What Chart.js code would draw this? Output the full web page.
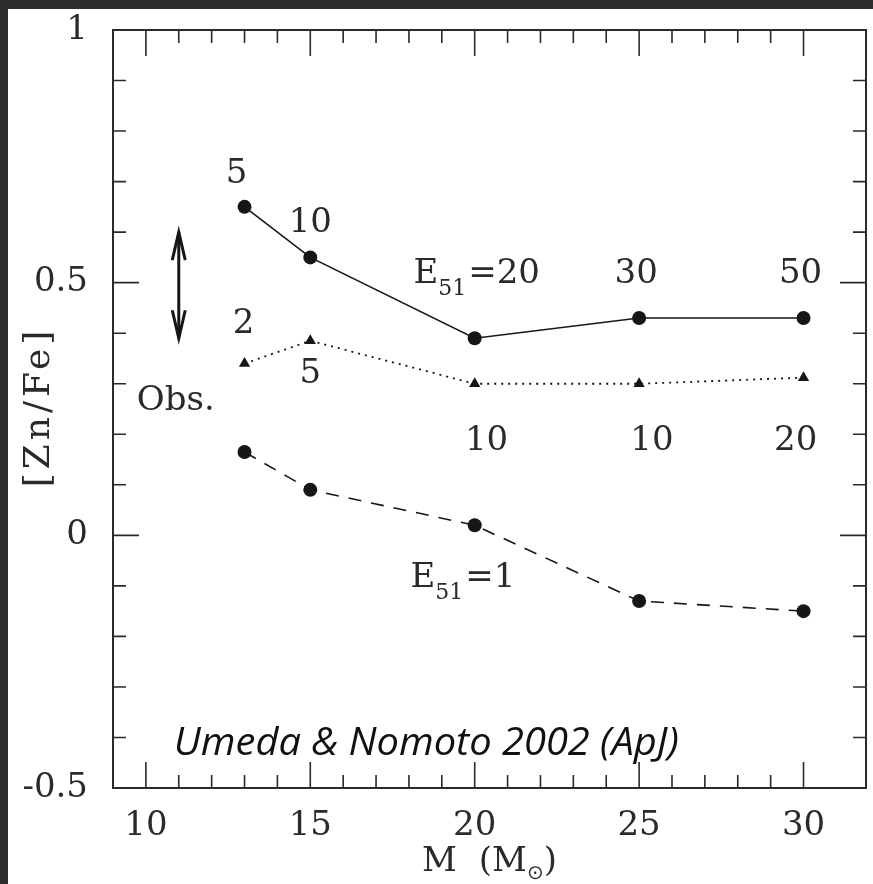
<!DOCTYPE html>
<html>
<head>
<meta charset="utf-8">
<script src="https://cdn.jsdelivr.net/npm/chart.js@4.4.1/dist/chart.umd.min.js"></script>
<style>
  html, body { margin: 0; padding: 0; background: #2d2d2d; }
  #wrap { width: 873px; height: 884px; }
</style>
</head>
<body>
<div id="wrap"><canvas id="chart" width="873" height="884"></canvas></div>
<script>
const MASSES = [13, 15, 20, 25, 30];
const ZNFE_HIGH_E = [0.65, 0.55, 0.39, 0.43, 0.43];
const ZNFE_MID_E = [0.34, 0.385, 0.30, 0.30, 0.312];
const ZNFE_E1 = [0.165, 0.09, 0.02, -0.13, -0.15];
const OBS_MASS = [11, 11];
const OBS_RANGE = [0.39, 0.6];
const X_TICK_LABELS = [10, 15, 20, 25, 30];
const Y_TICK_LABELS = [-0.5, 0, 0.5, 1];

// text labels next to the points: [text, mass, [Zn/Fe] of baseline]
const NOTES = [
  ["5", 12.76, 0.698],
  ["10", 15.0, 0.601],
  ["30", 24.91, 0.5],
  ["50", 29.91, 0.5],
  ["2", 12.97, 0.401],
  ["5", 15.0, 0.302],
  ["Obs.", 10.91, 0.249],
  ["10", 20.36, 0.169],
  ["10", 25.39, 0.169],
  ["20", 29.76, 0.169],
];
// E51 labels: [value, centre mass, baseline]
const E_NOTES = [
  ["20", 20.06, 0.5],
  ["1", 19.64, -0.102],
];
const CAPTION = "Umeda & Nomoto 2002 (ApJ)";

const INK = "#161616";
const TEXT = "#2a2a2a";
const SERIF = "'DejaVu Serif', serif";

function pts(ys, xs = MASSES) {
  return xs.map((x, i) => ({ x, y: ys[i] }));
}

function isNear(v, step) {
  return Math.abs(v / step - Math.round(v / step)) < 1e-6;
}

function drawELabel(ctx, value, cx, baseY) {
  const big = "34px " + SERIF;
  const small = "22px " + SERIF;
  ctx.font = big;
  const wE = ctx.measureText("E").width;
  const wEq = ctx.measureText("=").width;
  const wV = ctx.measureText(value).width;
  ctx.font = small;
  const wSub = ctx.measureText("51").width;
  const total = wE + wSub + wEq + wV + 2;
  let x = cx - total / 2;
  ctx.textAlign = "left";
  ctx.font = big;
  ctx.fillText("E", x, baseY);
  x += wE;
  ctx.font = small;
  ctx.fillText("51", x, baseY + 12);
  x += wSub + 2;
  ctx.font = big;
  ctx.fillText("=", x, baseY);
  x += wEq;
  ctx.fillText(value, x, baseY);
}

const decorations = {
  id: "decorations",
  beforeDraw(chart) {
    const { ctx, width, height } = chart;
    ctx.save();
    ctx.fillStyle = "#2d2d2d";
    ctx.fillRect(0, 0, width, height);
    ctx.fillStyle = "#ffffff";
    ctx.fillRect(8, 9, width - 8, height - 9);
    ctx.restore();
  },
  afterDraw(chart) {
    const { ctx, chartArea: a, scales } = chart;
    const xs = scales.x;
    const ys = scales.y;
    ctx.save();

    // frame
    ctx.strokeStyle = "#2a2a2a";
    ctx.lineWidth = 2;
    ctx.strokeRect(a.left, a.top, a.right - a.left, a.bottom - a.top);

    // inward ticks
    ctx.lineWidth = 1.6;
    ctx.beginPath();
    xs.ticks.forEach((t) => {
      if (!isNear(t.value, 1) || t.value <= xs.min || t.value >= xs.max) return;
      const px = xs.getPixelForValue(t.value);
      const len = isNear(t.value, 5) ? 26 : 13;
      ctx.moveTo(px, a.top);
      ctx.lineTo(px, a.top + len);
      ctx.moveTo(px, a.bottom);
      ctx.lineTo(px, a.bottom - len);
    });
    ys.ticks.forEach((t) => {
      if (t.value <= ys.min + 1e-6 || t.value >= ys.max - 1e-6) return;
      const py = ys.getPixelForValue(t.value);
      const len = isNear(t.value, 0.5) ? 26 : 13;
      ctx.moveTo(a.left, py);
      ctx.lineTo(a.left + len, py);
      ctx.moveTo(a.right, py);
      ctx.lineTo(a.right - len, py);
    });
    ctx.stroke();

    // arrow heads of the observed range
    const ax = xs.getPixelForValue(OBS_MASS[0]);
    const yTop = ys.getPixelForValue(OBS_RANGE[1]);
    const yBot = ys.getPixelForValue(OBS_RANGE[0]);
    ctx.lineWidth = 3;
    ctx.strokeStyle = INK;
    ctx.beginPath();
    ctx.moveTo(ax - 6.5, yTop + 28);
    ctx.lineTo(ax, yTop);
    ctx.lineTo(ax + 6.5, yTop + 28);
    ctx.moveTo(ax - 6.5, yBot - 28);
    ctx.lineTo(ax, yBot);
    ctx.lineTo(ax + 6.5, yBot - 28);
    ctx.stroke();

    // annotations
    ctx.fillStyle = TEXT;
    ctx.textBaseline = "alphabetic";
    ctx.font = "34px " + SERIF;
    ctx.textAlign = "center";
    NOTES.forEach(([txt, m, v]) => {
      ctx.fillText(txt, xs.getPixelForValue(m), ys.getPixelForValue(v));
    });
    E_NOTES.forEach(([val, m, v]) => {
      drawELabel(ctx, val, xs.getPixelForValue(m), ys.getPixelForValue(v));
    });

    // caption
    ctx.fillStyle = "#111";
    ctx.font = "italic 39px 'Open Sans', sans-serif";
    ctx.textAlign = "left";
    const capW = ctx.measureText(CAPTION).width;
    const capX = xs.getPixelForValue(10.85);
    const capY = ys.getPixelForValue(-0.4347);
    ctx.save();
    ctx.translate(capX, capY);
    ctx.scale(505 / capW, 1);
    ctx.fillText(CAPTION, 0, 0);
    ctx.restore();

    // y title
    ctx.fillStyle = TEXT;
    ctx.save();
    ctx.translate(40, (a.top + a.bottom) / 2);
    ctx.rotate(-Math.PI / 2);
    ctx.font = "36px " + SERIF;
    ctx.textAlign = "center";
    ctx.textBaseline = "middle";
    ctx.letterSpacing = "4px";
    ctx.fillText("[Zn/Fe]", 2, 0);
    ctx.restore();

    // x title: M (M_sun)
    ctx.font = "34px " + SERIF;
    ctx.textAlign = "left";
    const wM = ctx.measureText("M").width;
    const wP = ctx.measureText("(").width;
    const wP2 = ctx.measureText(")").width;
    ctx.font = "20px 'DejaVu Sans', sans-serif";
    const wSun = ctx.measureText("\u2299").width;
    const gap = 22;
    const total = wM + gap + wP + wM + wSun + wP2;
    let tx = (a.left + a.right) / 2 - total / 2;
    const base = 871;
    ctx.font = "34px " + SERIF;
    ctx.fillText("M", tx, base);
    tx += wM + gap;
    ctx.fillText("(", tx, base);
    tx += wP;
    ctx.fillText("M", tx, base);
    tx += wM;
    ctx.font = "20px 'DejaVu Sans', sans-serif";
    ctx.fillText("\u2299", tx, base + 8);
    tx += wSun;
    ctx.font = "34px " + SERIF;
    ctx.fillText(")", tx, base);

    ctx.restore();
  },
};

const lineStyle = {
  borderColor: INK,
  pointBackgroundColor: INK,
  pointBorderWidth: 0,
  fill: false,
  tension: 0,
};

new Chart(document.getElementById("chart"), {
  type: "line",
  data: {
    datasets: [
      {
        ...lineStyle,
        label: "E51 = 5-50",
        data: pts(ZNFE_HIGH_E),
        borderWidth: 1.6,
        pointStyle: "circle",
        pointRadius: 7,
      },
      {
        ...lineStyle,
        label: "E51 = 2-20",
        data: pts(ZNFE_MID_E),
        borderWidth: 1.8,
        borderDash: [2, 5],
        pointStyle: "triangle",
        pointRadius: 6.5,
      },
      {
        ...lineStyle,
        label: "E51 = 1",
        data: pts(ZNFE_E1),
        borderWidth: 1.6,
        borderDash: [13, 10],
        pointStyle: "circle",
        pointRadius: 7,
      },
      {
        ...lineStyle,
        label: "Obs.",
        data: pts(OBS_RANGE, OBS_MASS),
        borderWidth: 3,
        pointRadius: 0,
      },
    ],
  },
  options: {
    responsive: false,
    animation: false,
    layout: { padding: { top: 30, right: 6, left: 0, bottom: 0 } },
    plugins: {
      legend: { display: false },
      tooltip: { enabled: false },
    },
    scales: {
      x: {
        type: "linear",
        min: 9,
        max: 31.9,
        afterFit(scale) {
          scale.height = 96;
          scale.paddingLeft = 0;
          scale.paddingRight = 0;
        },
        grid: { display: false, drawTicks: false },
        border: { display: false },
        ticks: {
          stepSize: 1,
          autoSkip: false,
          maxRotation: 0,
          padding: 18,
          color: TEXT,
          font: { family: SERIF, size: 34 },
          callback(value) {
            const v = Math.round(value * 1000) / 1000;
            return X_TICK_LABELS.includes(v) ? String(v) : "";
          },
        },
      },
      y: {
        type: "linear",
        min: -0.5,
        max: 1,
        afterFit(scale) {
          scale.width = 113;
          scale.paddingTop = 0;
          scale.paddingBottom = 0;
        },
        grid: { display: false, drawTicks: false },
        border: { display: false },
        ticks: {
          stepSize: 0.1,
          autoSkip: false,
          padding: 25,
          color: TEXT,
          font: { family: SERIF, size: 34 },
          callback(value) {
            const v = Math.round(value * 10) / 10;
            return Y_TICK_LABELS.includes(v) ? String(v) : "";
          },
        },
      },
    },
  },
  plugins: [decorations],
});
</script>
</body>
</html>
